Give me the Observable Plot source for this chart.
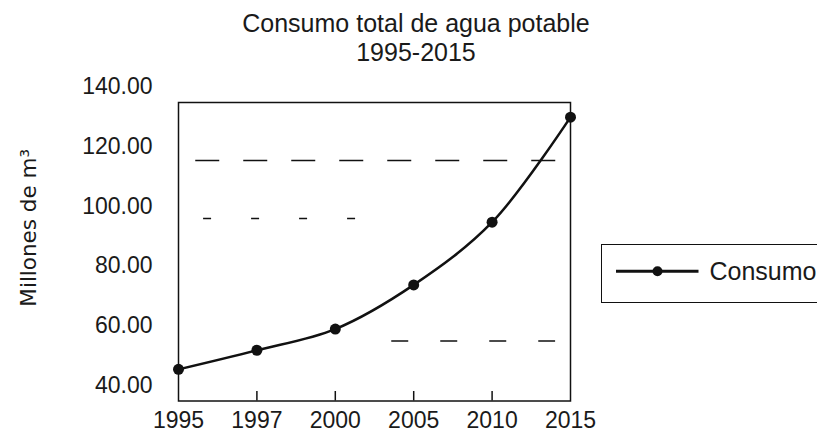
<!DOCTYPE html>
<html><head><meta charset="utf-8">
<script src="https://cdn.jsdelivr.net/npm/d3@7"></script>
<script src="https://cdn.jsdelivr.net/npm/@observablehq/plot@0.6"></script>
<style>
html,body{margin:0;padding:0;background:#fff;overflow:hidden;}
#wrap{position:relative;width:817px;height:436px;font-family:"Liberation Sans",Arial,sans-serif;color:#1a1a1a;}
#chart{position:absolute;left:0;top:0;}
#title{position:absolute;left:216px;top:9px;width:400px;text-align:center;font-size:25px;line-height:29px;}
#legend{position:absolute;left:601px;top:244px;width:240px;height:59px;border:1.5px solid #111;box-sizing:border-box;background:#fff;}
#legend svg{display:block;}
</style></head>
<body><div id="wrap"><div id="chart"></div><div id="title"></div><div id="legend"></div></div>
<script>
const titleLines = ["Consumo total de agua potable", "1995-2015"];
const yTitle = "Millones de m³";
const years = ["1995", "1997", "2000", "2005", "2010", "2015"];
const consumo = [45.4, 51.8, 58.9, 73.7, 94.7, 129.9];
const yTicks = [40, 60, 80, 100, 120, 140];
const seriesName = "Consumo";
// horizontal dashed reference lines: level, and extent in category-index units
const refLevel = [115.4, 95.9, 54.9];
const refFrom = [0.22, 0.32, 2.72];
const refTo = [4.85, 2.26, 4.81];

const data = years.map((yr, i) => ({i, year: yr, v: consumo[i]}));
const refs = refLevel.map((y, k) => ({y, x1: refFrom[k], x2: refTo[k]}));
const dashes = ["24,24", "8,40", "17,32"];

document.getElementById("title").innerHTML = titleLines.map(t => `<div>${t}</div>`).join("");

const W = 817, H = 436, mL = 178, mR = 247, mT = 102, mB = 35.5;
const yDomain = [34.8, 134.8];
const tickLen = 9.5 * (yDomain[1] - yDomain[0]) / (H - mT - mB); // inward x ticks, in y units
const inner = d3.range(1, years.length - 1).map(i => ({i}));

const plot = Plot.plot({
  width: W, height: H,
  marginLeft: mL, marginRight: mR, marginTop: mT, marginBottom: mB,
  style: {fontFamily: "'Liberation Sans', Arial, sans-serif", fontSize: "23px", color: "#1a1a1a", background: "transparent", overflow: "visible"},
  x: {type: "linear", domain: [0, years.length - 1]},
  y: {domain: yDomain},
  marks: [
    ...refs.map((r, k) => Plot.ruleY([r], {y: "y", x1: "x1", x2: "x2", stroke: "#111", strokeWidth: 1.5, strokeDasharray: dashes[k]})),
    Plot.ruleX(inner, {x: "i", y1: yDomain[0], y2: yDomain[0] + tickLen, stroke: "#111", strokeWidth: 1.5}),
    Plot.frame({stroke: "#111", strokeWidth: 1.5}),
    Plot.axisY({ticks: yTicks, tickFormat: d3.format(".2f"), tickSize: 0, tickPadding: 26, label: null}),
    Plot.axisX({ticks: d3.range(years.length), tickFormat: i => years[i], tickSize: 0, tickPadding: 11, label: null}),
    Plot.text([yTitle], {frameAnchor: "left", textAnchor: "middle", rotate: -90, dx: -149.5, dy: -24, fontSize: 21.5, fontFamily: "'DejaVu Sans', sans-serif", fill: "#1a1a1a"}),
    Plot.line(data, {x: "i", y: "v", stroke: "#111", strokeWidth: 2.5, curve: "catmull-rom"}),
    Plot.dot(data, {x: "i", y: "v", r: 5.5, fill: "#111"})
  ]
});
document.getElementById("chart").appendChild(plot);

document.getElementById("legend").innerHTML =
  `<svg width="240" height="56" font-family="'Liberation Sans', Arial, sans-serif">
    <line x1="14" x2="96.5" y1="26.2" y2="26.2" stroke="#111" stroke-width="3"/>
    <circle cx="55.5" cy="26.2" r="5" fill="#111"/>
    <text x="107.5" y="34.5" font-size="25" fill="#1a1a1a">${seriesName}</text>
  </svg>`;
</script>
</body></html>
